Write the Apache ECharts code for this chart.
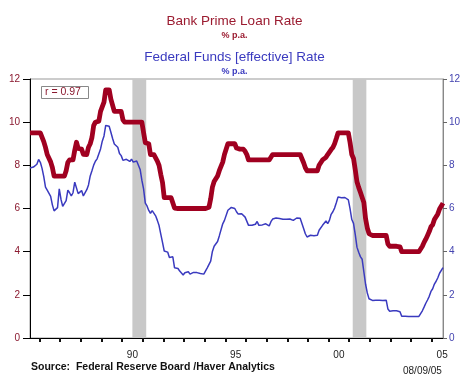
<!DOCTYPE html>
<html>
<head>
<meta charset="utf-8">
<script src="https://cdn.jsdelivr.net/npm/echarts@6/dist/echarts.min.js"></script>
<style>
    html, body { margin: 0; padding: 0; background: #fff; }
    #chart { width: 469px; height: 377px; }
</style>
</head>
<body>
<div id="chart"></div>
<script>
// monthly data, Jul 1985 .. Jul 2005
const startYear = 1985;
const startMonth = 7;

// Bank prime loan rate, % p.a.
const primeRate = [
    9.5, 9.5, 9.5, 9.5, 9.5, 9.5,
    9.5, 9.5, 9.1, 8.83, 8.5, 8.5, 8.16, 7.9, 7.5, 7.5, 7.5, 7.5,
    7.5, 7.5, 7.5, 7.75, 8.14, 8.25, 8.25, 8.25, 8.7, 9.07, 8.78, 8.75,
    8.75, 8.51, 8.5, 8.5, 8.84, 9.0, 9.29, 9.84, 10.0, 10.0, 10.05, 10.5,
    10.5, 10.93, 11.5, 11.5, 11.5, 11.07, 10.98, 10.5, 10.5, 10.5, 10.5, 10.5,
    10.11, 10.0, 10.0, 10.0, 10.0, 10.0, 10.0, 10.0, 10.0, 10.0, 10.0, 10.0,
    9.52, 9.05, 9.0, 9.0, 8.5, 8.5, 8.5, 8.5, 8.2, 8.0, 7.58, 7.21,
    6.5, 6.5, 6.5, 6.5, 6.5, 6.5, 6.02, 6.0, 6.0, 6.0, 6.0, 6.0,
    6.0, 6.0, 6.0, 6.0, 6.0, 6.0, 6.0, 6.0, 6.0, 6.0, 6.0, 6.0,
    6.0, 6.0, 6.06, 6.45, 6.99, 7.25, 7.25, 7.51, 7.75, 7.75, 8.15, 8.5,
    8.5, 9.0, 9.0, 9.0, 9.0, 9.0, 8.8, 8.75, 8.75, 8.75, 8.75, 8.65,
    8.5, 8.25, 8.25, 8.25, 8.25, 8.25, 8.25, 8.25, 8.25, 8.25, 8.25, 8.25,
    8.25, 8.25, 8.3, 8.5, 8.5, 8.5, 8.5, 8.5, 8.5, 8.5, 8.5, 8.5,
    8.5, 8.5, 8.5, 8.5, 8.5, 8.5, 8.5, 8.5, 8.49, 8.12, 7.89, 7.75,
    7.75, 7.75, 7.75, 7.75, 7.75, 7.75, 8.0, 8.06, 8.25, 8.25, 8.37, 8.5,
    8.5, 8.73, 8.83, 9.0, 9.24, 9.5, 9.5, 9.5, 9.5, 9.5, 9.5, 9.5,
    9.05, 8.5, 8.32, 7.8, 7.24, 6.98, 6.75, 6.67, 6.28, 5.53, 5.1, 4.84,
    4.75, 4.75, 4.75, 4.75, 4.75, 4.75, 4.75, 4.75, 4.75, 4.75, 4.35, 4.25,
    4.25, 4.25, 4.25, 4.25, 4.25, 4.22, 4.0, 4.0, 4.0, 4.0, 4.0, 4.0,
    4.0, 4.0, 4.0, 4.0, 4.0, 4.01, 4.25, 4.43, 4.58, 4.75, 4.93, 5.15,
    5.25, 5.49, 5.58, 5.75, 5.98, 6.01, 6.25
];

// Federal funds effective rate, % p.a.
const fedFunds = [
    7.88, 7.9, 7.92, 7.99, 8.05, 8.27,
    8.14, 7.86, 7.48, 6.99, 6.85, 6.92, 6.56, 6.17, 5.89, 5.85, 6.04, 6.91,
    6.43, 6.1, 6.13, 6.37, 6.85, 6.73, 6.58, 6.73, 7.22, 7.29, 6.69, 6.77,
    6.83, 6.58, 6.58, 6.87, 7.09, 7.51, 7.75, 8.01, 8.19, 8.3, 8.35, 8.76,
    9.12, 9.36, 9.85, 9.84, 9.81, 9.53, 9.24, 8.99, 9.02, 8.84, 8.55, 8.45,
    8.23, 8.24, 8.28, 8.26, 8.18, 8.29, 8.15, 8.13, 8.2, 8.11, 7.81, 7.31,
    6.91, 6.25, 6.12, 5.91, 5.78, 5.9, 5.82, 5.66, 5.45, 5.21, 4.81, 4.43,
    4.03, 4.06, 3.98, 3.73, 3.82, 3.76, 3.25, 3.3, 3.22, 3.1, 3.09, 2.92,
    3.02, 3.03, 3.07, 2.96, 3.0, 3.04, 3.06, 3.03, 3.09, 2.99, 3.02, 2.96,
    3.05, 3.25, 3.34, 3.56, 4.01, 4.25, 4.26, 4.47, 4.73, 4.76, 5.29, 5.45,
    5.53, 5.92, 5.98, 6.05, 6.01, 6.0, 5.85, 5.74, 5.8, 5.76, 5.8, 5.6,
    5.56, 5.22, 5.31, 5.22, 5.24, 5.27, 5.4, 5.22, 5.3, 5.24, 5.31, 5.29,
    5.25, 5.19, 5.39, 5.51, 5.5, 5.56, 5.52, 5.54, 5.54, 5.5, 5.52, 5.5,
    5.56, 5.51, 5.49, 5.45, 5.49, 5.56, 5.54, 5.55, 5.51, 5.07, 4.83, 4.68,
    4.63, 4.76, 4.81, 4.74, 4.74, 4.76, 4.99, 5.07, 5.22, 5.2, 5.42, 5.3,
    5.45, 5.73, 5.85, 6.02, 6.27, 6.53, 6.54, 6.5, 6.52, 6.51, 6.51, 6.4,
    5.98, 5.49, 5.31, 4.8, 4.21, 3.97, 3.77, 3.65, 3.07, 2.49, 2.09, 1.82,
    1.73, 1.74, 1.73, 1.75, 1.75, 1.75, 1.73, 1.74, 1.75, 1.75, 1.34, 1.24,
    1.24, 1.26, 1.25, 1.26, 1.26, 1.22, 1.01, 1.03, 1.01, 1.01, 1.0, 0.98,
    1.0, 1.01, 1.0, 1.0, 1.0, 1.03, 1.26, 1.43, 1.61, 1.76, 1.93, 2.16,
    2.28, 2.5, 2.63, 2.79, 3.0, 3.04, 3.26
];

// recessions (decimal years)
const recessions = [[1990.5, 1991.17], [2001.17, 2001.83]];

// year boundaries for ticks, mid-year for labels
const yearTicks = [1986, 1987, 1988, 1989, 1990, 1991, 1992, 1993, 1994, 1995,
    1996, 1997, 1998, 1999, 2000, 2001, 2002, 2003, 2004, 2005];
const labelYears = [1990.5, 1995.5, 2000.5, 2005.5];
const labelTexts = ['90', '95', '00', '05'];

const RED = '#a00020';
const BLUE = '#3a3abf';
const FONT = 'Liberation Sans, Arial, sans-serif';

// month index -> decimal year (mid month)
const toX = (i) => startYear + (startMonth - 1 + i + 0.5) / 12;
const xMin = toX(0);
const xMax = toX(primeRate.length - 1);

const primeData = primeRate.map((v, i) => [toX(i), v]);
const fedData = fedFunds.map((v, i) => [toX(i), v]);

const chart = echarts.init(document.getElementById('chart'));

const option = {
    animation: false,
    backgroundColor: '#fff',
    textStyle: { fontFamily: FONT },
    title: [
        { text: 'Bank Prime Loan Rate', left: 'center', top: 9,
          textStyle: { color: '#9b1b30', fontSize: 13.5, fontWeight: 'normal' } },
        { text: '% p.a.', left: 'center', top: 26,
          textStyle: { color: '#9b1b30', fontSize: 9, fontWeight: 'bold' } },
        { text: 'Federal Funds [effective] Rate', left: 'center', top: 45,
          textStyle: { color: BLUE, fontSize: 13.5, fontWeight: 'normal' } },
        { text: '% p.a.', left: 'center', top: 62,
          textStyle: { color: BLUE, fontSize: 9, fontWeight: 'bold' } }
    ],
    grid: {
        left: 30, right: 26, top: 79, bottom: 39,
        show: true, borderColor: '#999', borderWidth: 1
    },
    xAxis: [
        {
            type: 'value', min: xMin, max: xMax,
            position: 'bottom', offset: 2,
            axisLine: { show: true, lineStyle: { color: '#000', width: 1 } },
            axisTick: { show: false },
            splitLine: { show: false },
            axisLabel: {
                customValues: labelYears,
                formatter: (v) => labelTexts[labelYears.indexOf(v)] || '',
                color: '#222', fontSize: 10, margin: 10
            }
        },
        {
            type: 'value', min: xMin, max: xMax,
            position: 'bottom', offset: 5,
            axisLine: { show: false },
            axisTick: { show: true, customValues: yearTicks, length: 4,
                        lineStyle: { color: '#111', width: 2 } },
            axisLabel: { show: false },
            splitLine: { show: false }
        }
    ],
    yAxis: [
        {
            type: 'value', min: 0, max: 12, interval: 2, position: 'left',
            axisLine: { show: true, lineStyle: { color: '#000', width: 1 } },
            axisTick: { show: true, length: 7, lineStyle: { color: '#000' } },
            axisLabel: { color: '#8b1a30', fontSize: 10, margin: 10 },
            splitLine: { show: false }
        },
        {
            type: 'value', min: 0, max: 12, interval: 2, position: 'right',
            axisLine: { show: true, lineStyle: { color: '#888', width: 1 } },
            axisTick: { show: true, length: 4, lineStyle: { color: '#666' } },
            axisLabel: { color: '#4444b0', fontSize: 10, margin: 6 },
            splitLine: { show: false }
        }
    ],
    series: [
        {
            name: 'Federal Funds [effective] Rate',
            type: 'line', xAxisIndex: 0, yAxisIndex: 1,
            data: fedData, showSymbol: false,
            lineStyle: { color: BLUE, width: 1.5 },
            markArea: {
                silent: true,
                itemStyle: { color: '#c8c8c8', opacity: 1 },
                data: recessions.map(r => [{ xAxis: r[0] }, { xAxis: r[1] }])
            },
            z: 3
        },
        {
            name: 'Bank Prime Loan Rate',
            type: 'line', xAxisIndex: 0, yAxisIndex: 0,
            data: primeData, showSymbol: false,
            lineStyle: { color: RED, width: 4.8, join: 'round' },
            z: 4
        }
    ],
    graphic: [
        { type: 'rect', left: 41, top: 86, shape: { width: 47, height: 12 },
          style: { fill: '#fff', stroke: '#888', lineWidth: 1 }, z: 10 },
        { type: 'text', left: 45, top: 87,
          style: { text: 'r = 0.97', fill: '#8b1a30', font: '10.5px ' + FONT }, z: 11 },
        { type: 'text', left: 31, top: 362,
          style: { text: 'Source:  Federal Reserve Board /Haver Analytics', fill: '#111',
                   font: 'bold 10.5px ' + FONT } },
        { type: 'text', left: 403, top: 366,
          style: { text: '08/09/05', fill: '#222', font: '10px ' + FONT } }
    ]
};

chart.setOption(option);
</script>
</body>
</html>
